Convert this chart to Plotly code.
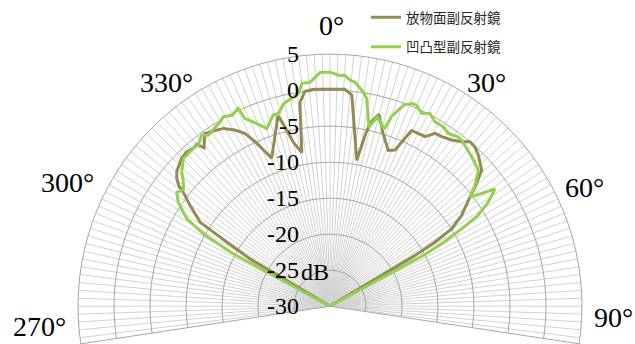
import plotly.graph_objects as go

W, H = 635, 344

# ---- data (angle in degrees, level in dB) ----
series_names = ["放物面副反射鏡", "凹凸型副反射鏡"]

brown_theta = [-60.0, -59.4, -58.2, -57.1, -54.2, -52.6, -52.0, -51.4, -50.2, -48.8, -47.4,
               -45.1, -42.9, -40.9, -39.4, -38.5, -36.0, -34.2, -31.0, -28.4, -26.2, -24.5,
               -22.8, -21.5, -15.3, -14.4, -12.6, -10.4, -8.4, -6.7, -4.4, 3.9, 5.9, 10.4,
               11.6, 12.3, 14.3, 17.2, 20.5, 22.6, 24.9, 29.3, 31.3, 33.4, 36.2, 38.7, 40.4,
               42.3, 44.5, 48.1, 50.6, 52.6, 55.4, 57.6, 58.6, 59.2, 60.0]
brown_db = [-30.0, -17.1, -13.1, -8.5, -6.0, -4.6, -4.0, -3.1, -2.3, -1.7, -1.4,
            -0.9, -0.75, -1.0, -0.9, -1.9, -0.4, -0.7, -1.2, -2.2, -3.3, -4.9,
            -6.7, -7.9, -2.6, -3.9, -6.7, -8.3, -1.4, 0.0, 0.2, 0.2, -0.5, -9.4,
            -5.8, -4.0, -2.5, -5.0, -6.9, -6.5, -3.1, -3.0, -1.9, -1.8, -1.4, -0.75, 0.0,
            -0.1, -0.6, -1.7, -3.9, -5.8, -7.8, -10.0, -12.9, -16.3, -30.0]

green_theta = [-62.0, -61.6, -60.3, -58.6, -55.6, -53.4, -51.5, -49.7, -47.8, -44.8, -42.9,
               -40.9, -39.3, -36.9, -35.4, -30.8, -29.4, -27.2, -24.9, -24.4, -22.6, -19.6,
               -16.5, -15.0, -13.0, -11.5, -8.5, -7.2, -5.1, -2.4, 0.0, 2.1, 3.7, 5.1, 6.4,
               8.8, 10.0, 12.3, 14.1, 17.0, 18.0, 20.2, 22.0, 23.3, 25.4, 27.4, 29.7, 32.3,
               34.4, 37.2, 38.4, 43.5, 47.5, 50.2, 52.1, 54.6, 56.7, 58.5, 59.6, 60.8, 61.4,
               62.0]
green_db = [-30.0, -14.7, -9.9, -6.7, -4.45, -3.5, -4.0, -3.3, -2.2, -1.1, -1.07,
            -1.0, -1.1, -0.3, -0.85, -0.2, 0.2, -0.2, 0.27, -1.4, -2.3, -3.8,
            -2.3, -2.3, -1.2, -0.85, -0.2, 1.2, 1.2, 2.5, 2.5, 2.1, 2.1, 1.5, 1.3,
            0.1, -0.7, -4.55, -2.9, -4.3, -2.25, -0.2, 0.35, 0.4, -0.36, 0.15, -0.54, -0.54,
            -0.93, -0.5, -0.57, -1.4, -2.05, -3.8, -5.4, -1.9, -3.7, -5.9, -8.8, -12.2, -14.9,
            -30.0]

radial_ticks = [5, 0, -5, -10, -15, -20, -25, -30]
radial_ticktext = ["5", "0", "-5", "-10", "-15", "-20", "-25", "-30"]
angle_labels = ["0°", "30°", "60°", "90°", "270°", "300°", "330°"]
# label centres in pixels (layout only)
angle_label_px = [(331, 25), (487, 82), (584, 187), (613, 317), (39, 326), (67, 183), (166, 82)]

BROWN = "#948A54"
GREEN = "#92D050"
SERIF = "Liberation Serif, Times New Roman, serif"

fig = go.Figure()
fig.add_trace(go.Scatterpolar(theta=brown_theta, r=brown_db, mode="lines", name=series_names[0],
                              line=dict(color=BROWN, width=3), legendgroup="a"))
fig.add_trace(go.Scatterpolar(theta=green_theta, r=green_db, mode="lines", name=series_names[1],
                              line=dict(color=GREEN, width=3), legendgroup="b"))

annotations = []
for txt, (px, py) in zip(angle_labels, angle_label_px):
    annotations.append(dict(text=txt, x=px / W, y=1 - py / H, xref="paper", yref="paper",
                            xanchor="center", yanchor="middle", showarrow=False,
                            font=dict(family=SERIF, size=28, color="black")))
annotations.append(dict(text="dB", x=299 / W, y=1 - 272 / H, xref="paper", yref="paper",
                        xanchor="left", yanchor="middle", showarrow=False,
                        font=dict(family=SERIF, size=24, color="black")))

fig.update_layout(
    width=W, height=H,
    margin=dict(l=0, r=0, t=0, b=0),
    paper_bgcolor="white",
    polar=dict(
        domain=dict(x=[78 / W, 582 / W], y=[0, 290 / H]),
        sector=[-8.6, 188.6],
        bgcolor="white",
        angularaxis=dict(rotation=90, direction="clockwise", dtick=1.8, showticklabels=False,
                         ticks="", gridcolor="#d2d2d2", gridwidth=1, showline=True,
                         linecolor="#a6a6a6", linewidth=1),
        radialaxis=dict(range=[-30, 5], tickvals=radial_ticks, ticktext=radial_ticktext,
                        angle=90, tickangle=90, side="counterclockwise", showline=False,
                        gridcolor="#a6a6a6", gridwidth=1, ticks="outside", ticklen=22,
                        tickcolor="rgba(0,0,0,0)",
                        tickfont=dict(family=SERIF, size=24, color="black")),
    ),
    showlegend=True,
    legend=dict(x=366 / W, y=1 - 2 / H, xanchor="left", yanchor="top",
                bgcolor="rgba(0,0,0,0)", tracegroupgap=9,
                font=dict(family="Noto Sans CJK JP", size=13.5, color="#262626")),
    annotations=annotations,
)

fig.write_html("out.html")
